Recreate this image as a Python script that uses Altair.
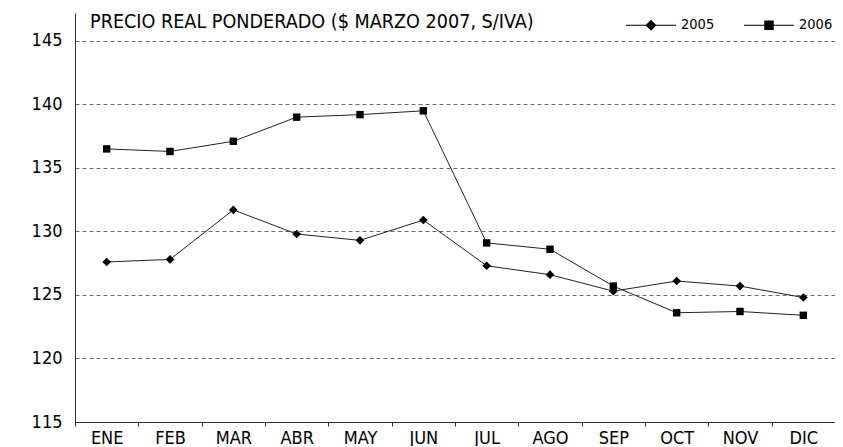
import altair as alt
import pandas as pd

months = ["ENE", "FEB", "MAR", "ABR", "MAY", "JUN", "JUL", "AGO", "SEP", "OCT", "NOV", "DIC"]
v2005 = [127.6, 127.8, 131.7, 129.8, 129.3, 130.9, 127.3, 126.6, 125.3, 126.1, 125.7, 124.8]
v2006 = [136.5, 136.3, 137.1, 139.0, 139.2, 139.5, 129.1, 128.6, 125.7, 123.6, 123.7, 123.4]
series = ["2005", "2006"]
y_ticks = [115, 120, 125, 130, 135, 140, 145]
title_text = "PRECIO REAL PONDERADO ($ MARZO 2007, S/IVA)"

df = pd.DataFrame({
    "mes": months * 2,
    "valor": v2005 + v2006,
    "serie": [series[0]] * 12 + [series[1]] * 12,
})

FONT = "DejaVu Sans Condensed"

x = alt.X("mes:N", sort=months, title=None,
          scale=alt.Scale(type="band", paddingInner=0, paddingOuter=0),
          axis=alt.Axis(labelAngle=0, tickBand="extent", domainColor="#333", tickColor="#333",
                        tickSize=4, labelFont=FONT, labelFontSize=18, labelColor="black",
                        labelPadding=3, grid=False))
y = alt.Y("valor:Q", title=None,
          scale=alt.Scale(domain=[115, 147.2], nice=False, zero=False),
          axis=alt.Axis(values=y_ticks, grid=True, gridDash=[4, 3], gridColor="#444",
                        gridWidth=0.8, ticks=False, domainColor="#333", labelPadding=13,
                        labelFont=FONT, labelFontSize=18, labelColor="black"))

base = alt.Chart(df)

lines = base.mark_line(color="#222", strokeWidth=1).encode(x=x, y=y, detail="serie:N")

pts05 = base.transform_filter(alt.datum.serie == "2005").mark_point(
    shape="diamond", filled=True, color="black", size=75, opacity=1).encode(x=x, y=y)
pts06 = base.transform_filter(alt.datum.serie == "2006").mark_point(
    shape="square", filled=True, color="black", size=55, opacity=1).encode(x=x, y=y)

sym05 = "M-1,-0.022L1,-0.022L1,0.022L-1,0.022Z M0,-0.22L0.22,0L0,0.22L-0.22,0Z"
sym06 = "M-1,-0.022L1,-0.022L1,0.022L-1,0.022Z M-0.19,-0.19L0.19,-0.19L0.19,0.19L-0.19,0.19Z"

legend_layer = base.mark_point(filled=True, color="black", opacity=0).encode(
    x=x, y=y,
    shape=alt.Shape("serie:N", scale=alt.Scale(domain=series, range=[sym05, sym06]),
                    legend=alt.Legend(title=None, orient="none", direction="horizontal",
                                      legendX=551, legendY=-13, symbolSize=2500,
                                      symbolOpacity=1, symbolFillColor="black",
                                      symbolStrokeWidth=0,
                                      labelFont=FONT, labelFontSize=14.5, labelColor="black",
                                      labelOffset=5, columnPadding=29, padding=0)))

chart = alt.layer(lines, pts05, pts06, legend_layer).properties(
    width=760, height=409,
    autosize=alt.AutoSizeParams(type="none"),
    padding={"left": 67, "top": 5, "right": 0, "bottom": 24},
    title=alt.TitleParams(title_text, anchor="start", frame="group", dx=15, dy=37,
                          font=FONT, fontSize=19.6, fontWeight="normal", color="black"),
).configure_view(stroke=None)

chart.save("out.html", embed_options={"renderer": "svg", "actions": False})
